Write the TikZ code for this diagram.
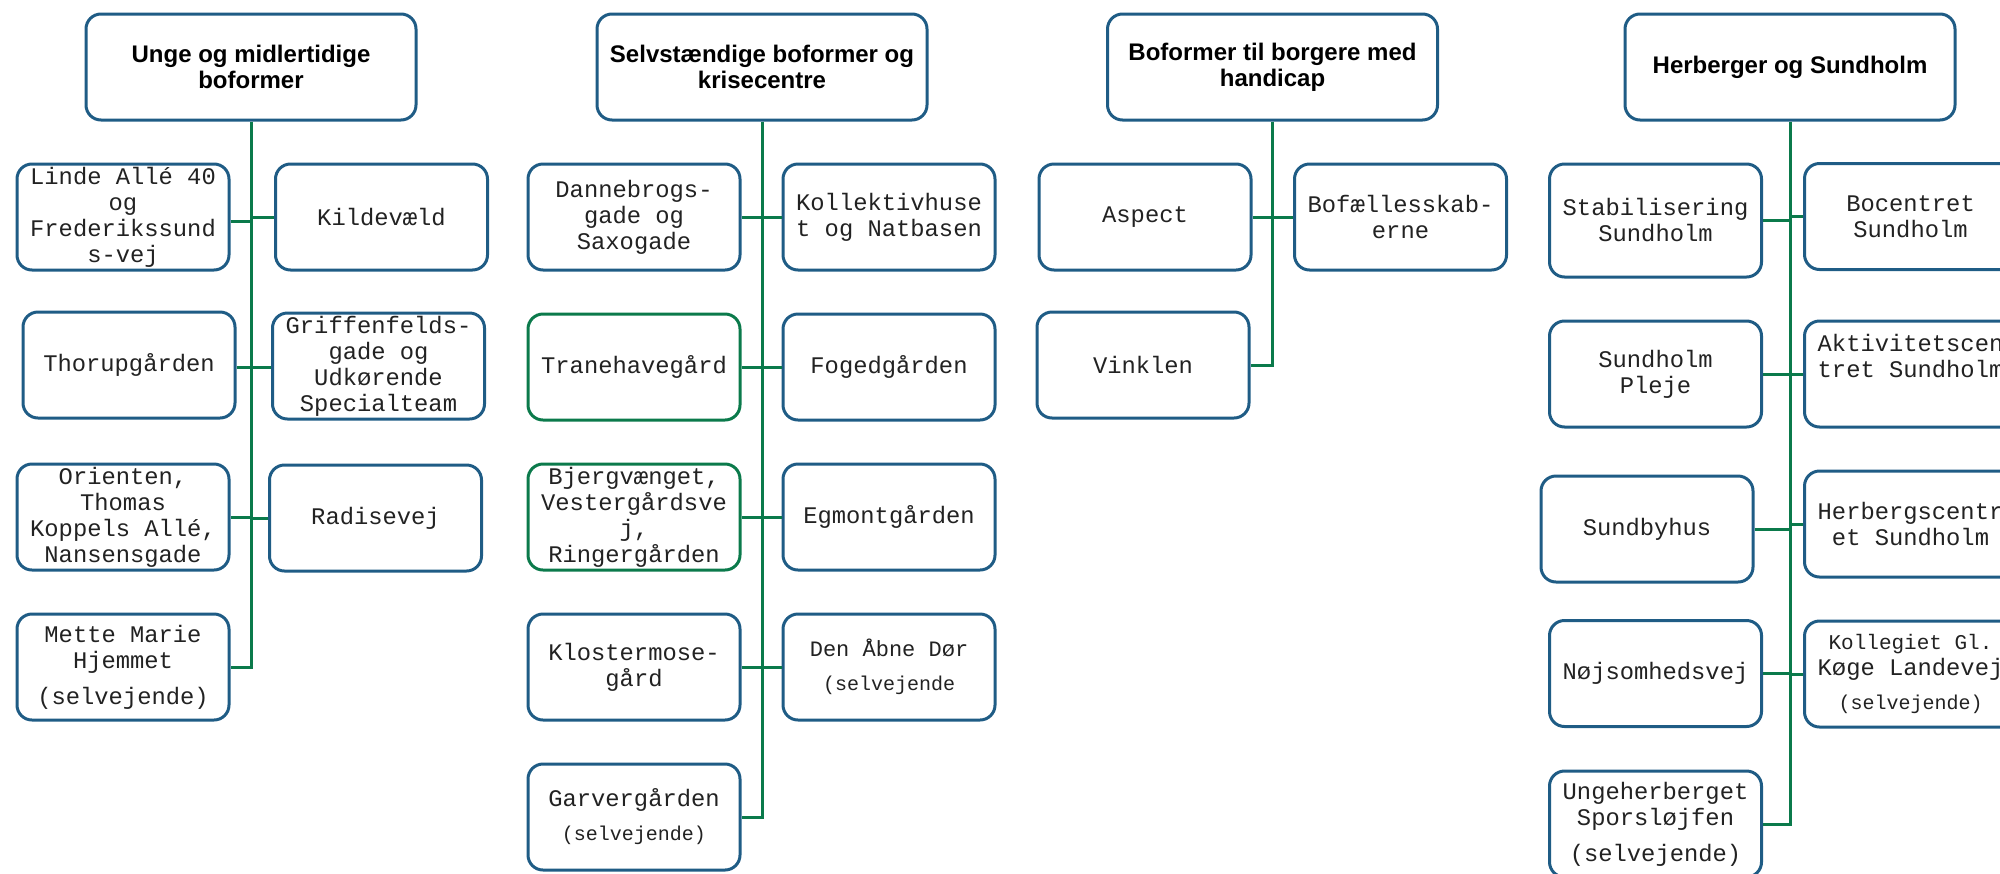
\documentclass[tikz,border=0pt]{standalone}
\usepackage{fontspec}
\setmainfont{Liberation Sans}
\newfontfamily\monof{Liberation Mono}
\definecolor{boxblue}{HTML}{1F5C85}
\definecolor{lineg}{HTML}{0B7A4B}
\definecolor{txtc}{HTML}{222222}
\newcommand{\smallsel}{\fontsize{10}{12}\selectfont}
\newcommand{\midsel}{\fontsize{11}{13}\selectfont}
\begin{document}
\begin{tikzpicture}[x=0.5pt,y=-0.5pt,
  box/.style={draw=boxblue, line width=1.5pt, rounded corners=7.5pt,
    minimum width=106pt, minimum height=53pt, inner sep=0pt, align=center,
    font=\monof\fontsize{11.9}{13}\selectfont, text=txtc, fill=white},
  gbox/.style={box, draw=lineg},
  hbox/.style={box, minimum width=165pt, font=\bfseries\fontsize{12}{13}\selectfont, text=black},
  conn/.style={draw=lineg, line width=1.5pt}]
\useasboundingbox (0,0) rectangle (2000,873);
\clip (0,0) rectangle (2000,873);

% ---------- column 1 ----------
\node[hbox] (h1) at (251,67) {Unge og midlertidige\\boformer};
\node[box] (linde) at (123,217) {Linde Allé 40\\og\\Frederikssund\\s-vej};
\node[box] (kilde) at (381.5,217) {Kildevæld};
\node[box] (thorup) at (129,365) {Thorupgården};
\node[box] (griff) at (378.5,366) {Griffenfelds-\\gade og\\Udkørende\\Specialteam};
\node[box] (orient) at (123,517) {Orienten,\\Thomas\\Koppels Allé,\\Nansensgade};
\node[box] (radis) at (375.5,518) {Radisevej};
\node[box] (mette) at (123,667) {Mette Marie\\Hjemmet\\[5pt](selvejende)};

\draw[conn] (h1.south) |- (mette.east);
\draw[conn] ([yshift=-2pt]linde.east) -- ([yshift=-2pt]linde.east -| h1.south);
\draw[conn] (kilde.west) -- (kilde.west -| h1.south);
\draw[conn] ([yshift=-1pt]thorup.east) -- ([yshift=-1pt]thorup.east -| h1.south);
\draw[conn] ([yshift=-0.5pt]griff.west) -- ([yshift=-0.5pt]griff.west -| h1.south);
\draw[conn] (orient.east) -- (orient.east -| h1.south);
\draw[conn] (radis.west) -- (radis.west -| h1.south);

% ---------- column 2 ----------
\node[hbox] (h2) at (762,67) {Selvstændige boformer og\\krisecentre};
\node[box] (danne) at (634,217) {Dannebrogs-\\gade og\\Saxogade};
\node[box] (kollek) at (889,217) {Kollektivhuse\\t og Natbasen};
\node[gbox] (trane) at (634,367) {Tranehavegård};
\node[box] (foged) at (889,367) {Fogedgården};
\node[gbox] (bjerg) at (634,517) {Bjergvænget,\\Vestergårdsve\\j,\\Ringergården};
\node[box] (egmont) at (889,517) {Egmontgården};
\node[box] (kloster) at (634,667) {Klostermose-\\gård};
\node[box] (aabne) at (889,667) {{\midsel Den Åbne Dør}\\[4pt]{\smallsel (selvejende}};
\node[box] (garver) at (634,817) {Garvergården\\[4pt]{\smallsel (selvejende)}};

\draw[conn] (h2.south) |- (garver.east);
\draw[conn] (danne.east) -- (danne.east -| h2.south);
\draw[conn] (kollek.west) -- (kollek.west -| h2.south);
\draw[conn] (trane.east) -- (trane.east -| h2.south);
\draw[conn] (foged.west) -- (foged.west -| h2.south);
\draw[conn] (bjerg.east) -- (bjerg.east -| h2.south);
\draw[conn] (egmont.west) -- (egmont.west -| h2.south);
\draw[conn] (kloster.east) -- (kloster.east -| h2.south);
\draw[conn] (aabne.west) -- (aabne.west -| h2.south);

% ---------- column 3 ----------
\node[hbox] (h3) at (1272.5,67) {Boformer til borgere med\\handicap};
\node[box] (aspect) at (1145,217) {Aspect};
\node[box] (bofael) at (1400.5,217) {Bofællesskab-\\erne};
\node[box] (vinklen) at (1143,365) {Vinklen};

\draw[conn] (h3.south) |- (vinklen.east);
\draw[conn] (aspect.east) -- (aspect.east -| h3.south);
\draw[conn] (bofael.west) -- (bofael.west -| h3.south);

% ---------- column 4 ----------
\node[hbox] (h4) at (1790,67) {Herberger og Sundholm};
\node[box, minimum height=56.5pt] (stabil) at (1655.5,220.5) {Stabilisering\\Sundholm};
\node[box] (bocent) at (1910.5,216.5) {Bocentret\\Sundholm};
\node[box] (pleje) at (1655.5,374) {Sundholm\\Pleje};
\node[box] (aktiv) at (1910.5,374) {Aktivitetscen\\tret Sundholm\\[5pt]\mbox{}};
\node[box] (sundby) at (1647,529) {Sundbyhus};
\node[box] (herb) at (1910.5,524) {Herbergscentr\\et Sundholm};
\node[box] (nojs) at (1655.5,673.5) {Nøjsomhedsvej};
\node[box] (kolleg) at (1910.5,674) {{\fontsize{10.5}{12.5}\selectfont Kollegiet Gl.}\\Køge Landevej\\[4pt]{\smallsel (selvejende)}};
\node[box] (unge) at (1655.5,824) {Ungeherberget\\Sporsløjfen\\[5pt](selvejende)};

\draw[conn] (h4.south) |- (unge.east);
\draw[conn] (stabil.east) -- (stabil.east -| h4.south);
\draw[conn] (bocent.west) -- (bocent.west -| h4.south);
\draw[conn] (pleje.east) -- (pleje.east -| h4.south);
\draw[conn] (aktiv.west) -- (aktiv.west -| h4.south);
\draw[conn] (sundby.east) -- (sundby.east -| h4.south);
\draw[conn] (herb.west) -- (herb.west -| h4.south);
\draw[conn] (nojs.east) -- (nojs.east -| h4.south);
\draw[conn] (kolleg.west) -- (kolleg.west -| h4.south);
\end{tikzpicture}
\end{document}
